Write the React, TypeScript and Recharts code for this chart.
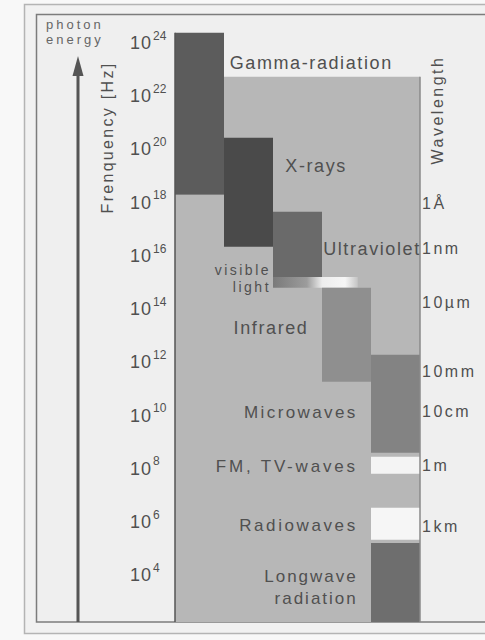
import { ComposedChart, XAxis, YAxis, ReferenceArea, ReferenceDot, ReferenceLine } from "recharts";

// frequency axis: log10(f / Hz)
const FREQ_EXPONENTS = [24, 22, 20, 18, 16, 14, 12, 10, 8, 6, 4];

// wavelength marks on the right, placed at log10(f)
const WAVELENGTH_LABELS = ["1Å", "1nm", "10µm", "10mm", "10cm", "1m", "1km"];
const WAVELENGTH_LOG_F = [17.95, 16.26, 14.23, 11.63, 10.13, 8.1, 5.84];

// spectrum blocks: column span (0..5) and log10(f) span
const BAND_NAMES = ["bgUpper", "bgLower", "gamma", "xray", "uv", "visible", "infrared", "microwave", "fmtv", "radio", "longwave"];
const BAND_COL_FROM = [1, 0, 0, 1, 2, 2, 3, 4, 4, 4, 4];
const BAND_COL_TO = [5, 1, 1, 2, 3, 3.73, 4, 5, 5, 5, 5];
const BAND_LOG_LOW = [2.23, 2.23, 18.29, 16.33, 15.2, 14.79, 11.26, 8.59, 7.8, 5.32, 2.23];
const BAND_LOG_HIGH = [22.72, 18.29, 24.38, 20.43, 17.65, 15.2, 14.79, 12.27, 8.44, 6.52, 5.2];

// region names
const REGION_LABELS = ["Gamma-radiation", "X-rays", "Ultraviolet", "visible", "light", "Infrared", "Microwaves", "FM, TV-waves", "Radiowaves", "Longwave", "radiation"];
const REGION_LABEL_COL = [2.78, 2.88, 4.02, 1.96, 1.96, 1.96, 3.73, 3.73, 3.73, 3.73, 3.73];
const REGION_LABEL_LOG = [23.25, 19.38, 16.26, 15.47, 14.83, 13.29, 10.13, 8.1, 5.88, 3.96, 3.14];

const BAND_FILL: Record<string, string> = {
  bgUpper: "#b7b7b7",
  bgLower: "#b7b7b7",
  gamma: "#5c5c5c",
  xray: "#4a4a4a",
  uv: "#6a6a6a",
  visible: "url(#visibleGrad)",
  infrared: "#8f8f8f",
  microwave: "#838383",
  fmtv: "#f4f4f4",
  radio: "#f6f6f6",
  longwave: "#6e6e6e",
};

const FONT = "'Liberation Sans', Arial, sans-serif";
const TEXT = "#505050";

const labelStyle = (name: string) => {
  if (name === "visible" || name === "light") return { size: 14, anchor: "end", spacing: 2.5 };
  if (name === "Longwave" || name === "radiation") return { size: 17, anchor: "end", spacing: 2 };
  if (name === "Microwaves") return { size: 17, anchor: "end", spacing: 2.4 };
  if (name === "FM, TV-waves") return { size: 17, anchor: "end", spacing: 2.8 };
  if (name === "Radiowaves") return { size: 17, anchor: "end", spacing: 2.6 };
  return { size: 18, anchor: "middle", spacing: 1.6 };
};

const FreqTick = ({ x, y, payload }: any) => (
  <g fontFamily={FONT} fill={TEXT}>
    <text x={x - 23} y={y} dy="0.35em" textAnchor="end" fontSize={18} letterSpacing={1}>
      10
    </text>
    <text x={x - 22} y={y - 3} fontSize={12}>
      {payload.value}
    </text>
  </g>
);

const WaveTick = ({ x, y, payload }: any) => (
  <text x={x + 2} y={y} dy="0.35em" fontFamily={FONT} fill={TEXT} fontSize={16} letterSpacing={2.5}>
    {WAVELENGTH_LABELS[WAVELENGTH_LOG_F.indexOf(payload.value)]}
  </text>
);

export default function App() {
  return (
    <div style={{ position: "absolute", left: 0, top: 0, width: 485, height: 640, background: "#f8f8f8" }}>
      <svg width={485} height={640} style={{ position: "absolute", left: 0, top: 0 }}>
        <defs>
          <linearGradient id="visibleGrad" x1="0" y1="0" x2="1" y2="0">
            <stop offset="0%" stopColor="#7a7a7a" />
            <stop offset="40%" stopColor="#9c9c9c" />
            <stop offset="58%" stopColor="#ededed" />
            <stop offset="85%" stopColor="#f6f6f6" />
            <stop offset="100%" stopColor="#c4c4c4" />
          </linearGradient>
        </defs>
        <rect x={24.5} y={4.5} width={480} height={629} fill="#f1f1f1" stroke="#b4b4b4" strokeWidth={1.5} />
        <rect x={36.5} y={14.5} width={470} height={607.5} fill="#efefef" stroke="#7c7c7c" strokeWidth={1.5} />
        {/* photon energy arrow */}
        <line x1={78} y1={70} x2={78} y2={622} stroke="#555" strokeWidth={3} />
        <polygon points="78,56 72.5,76 83.5,76" fill="#555" />
        <g fontFamily={FONT} fill="#666" fontSize={13} letterSpacing={3}>
          <text x={46} y={29}>photon</text>
          <text x={46} y={44}>energy</text>
        </g>
        <text
          transform="translate(107,137.5) rotate(-90)"
          textAnchor="middle"
          dy="0.35em"
          fontFamily={FONT}
          fontSize={16}
          letterSpacing={2.3}
          fill={TEXT}
        >
          Frenquency [Hz]
        </text>
        <text
          transform="translate(437,110) rotate(-90)"
          textAnchor="middle"
          dy="0.35em"
          fontFamily={FONT}
          fontSize={16}
          letterSpacing={2.5}
          fill={TEXT}
        >
          Wavelength
        </text>
      </svg>
      <div style={{ position: "absolute", left: 0, top: 0 }}>
        <ComposedChart width={485} height={640} margin={{ top: 26, right: 0, bottom: 18, left: 125 }}>
          <XAxis type="number" dataKey="x" domain={[0, 5]} hide allowDataOverflow />
          <YAxis
            yAxisId="freq"
            type="number"
            domain={[2.23, 24.63]}
            allowDataOverflow
            ticks={FREQ_EXPONENTS}
            interval={0}
            width={50}
            axisLine={false}
            tickLine={false}
            tickSize={0}
            tickMargin={0}
            tick={<FreqTick />}
          />
          <YAxis
            yAxisId="wl"
            orientation="right"
            type="number"
            domain={[2.23, 24.63]}
            allowDataOverflow
            ticks={WAVELENGTH_LOG_F}
            interval={0}
            width={65}
            axisLine={false}
            tickLine={false}
            tickSize={0}
            tickMargin={0}
            tick={<WaveTick />}
          />
          {BAND_NAMES.map((name, i) => (
            <ReferenceArea
              key={name}
              yAxisId="freq"
              x1={BAND_COL_FROM[i]}
              x2={BAND_COL_TO[i]}
              y1={BAND_LOG_LOW[i]}
              y2={BAND_LOG_HIGH[i]}
              fill={BAND_FILL[name]}
              fillOpacity={1}
              stroke="none"
              ifOverflow="visible"
            />
          ))}
          <ReferenceLine
            yAxisId="freq"
            segment={[
              { x: 0, y: BAND_LOG_LOW[1] },
              { x: 0, y: BAND_LOG_HIGH[2] },
            ]}
            stroke="#555"
            strokeWidth={1.5}
            ifOverflow="visible"
          />
          <ReferenceLine
            yAxisId="freq"
            segment={[
              { x: 5, y: BAND_LOG_LOW[0] },
              { x: 5, y: BAND_LOG_HIGH[0] },
            ]}
            stroke="#8a8a8a"
            strokeWidth={1.5}
            ifOverflow="visible"
          />
          {REGION_LABELS.map((label, i) => {
            const st = labelStyle(label);
            return (
              <ReferenceDot
                key={label}
                yAxisId="freq"
                x={REGION_LABEL_COL[i]}
                y={REGION_LABEL_LOG[i]}
                r={0}
                ifOverflow="visible"
                shape={(p: any) => (
                  <text
                    x={p.cx}
                    y={p.cy}
                    dy="0.35em"
                    textAnchor={st.anchor}
                    fontFamily={FONT}
                    fontSize={st.size}
                    letterSpacing={st.spacing}
                    fill={TEXT}
                  >
                    {label}
                  </text>
                )}
              />
            );
          })}
        </ComposedChart>
      </div>
    </div>
  );
}
